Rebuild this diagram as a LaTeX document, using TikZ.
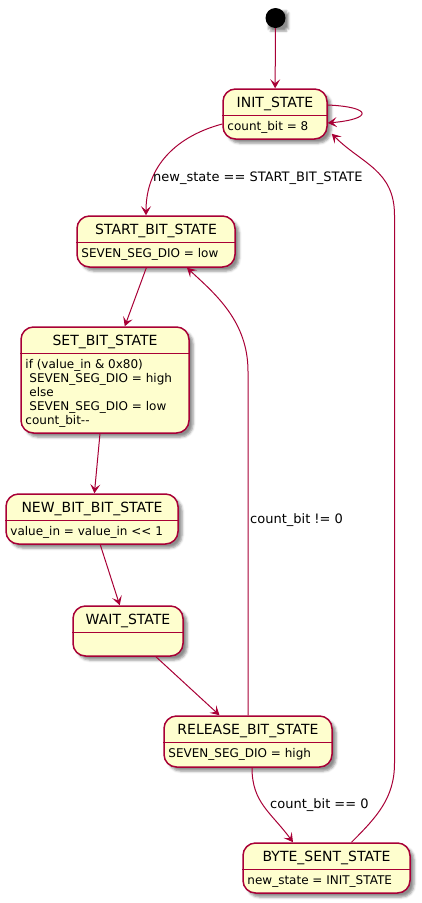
\documentclass[tikz,border=0pt]{standalone}
\usepackage{fontspec}
\setmainfont{DejaVu Sans}
\usetikzlibrary{arrows.meta,shadows.blur}

\definecolor{umlborder}{HTML}{A80036}
\definecolor{umlfill}{HTML}{FEFECE}

\begin{document}
\begin{tikzpicture}[
    x=1pt, y=-1pt,
    state/.style={draw=umlborder, fill=umlfill, line width=1.5pt, rounded corners=12.5pt, inner sep=0pt,
        blur shadow={shadow xshift=4pt, shadow yshift=-4pt, shadow blur radius=2.5pt, shadow blur extra rounding=9pt, shadow opacity=45}},
    title/.style={anchor=base, inner sep=0pt, font=\fontsize{14}{16}\selectfont},
    body/.style={anchor=north west, inner sep=0pt, align=left, font=\fontsize{12}{14}\selectfont},
    divider/.style={draw=umlborder, line width=1.5pt},
    arr/.style={draw=umlborder, line width=1pt, -{Stealth[length=9pt, width=10pt, inset=4pt]}},
    guard/.style={inner sep=0pt, anchor=west, font=\fontsize{13}{15}\selectfont},
]
\useasboundingbox (0,0) rectangle (421,903);

% Initial pseudo-state
\node[circle, fill=black, minimum size=20pt, inner sep=0pt,
    blur shadow={shadow xshift=3pt, shadow yshift=-3pt, shadow blur radius=2pt, shadow blur extra rounding=8pt, shadow opacity=45}] (initial) at (275.5,18) {};

% INIT_STATE
\node[state, minimum width=104pt, minimum height=50pt] (init) at (275,114) {};
\node[title] (initT) at ([yshift=-19.5pt]init.north) {INIT\_STATE};
\draw[divider] ([yshift=-27pt]init.north west) -- ([yshift=-27pt]init.north east);
\node[body] (initB) at ([xshift=5pt,yshift=-33pt]init.north west) {count\_bit = 8};

% START_BIT_STATE
\node[state, minimum width=158pt, minimum height=51pt] (startbit) at (156,241.5) {};
\node[title] (startbitT) at ([yshift=-19.5pt]startbit.north) {START\_BIT\_STATE};
\draw[divider] ([yshift=-27pt]startbit.north west) -- ([yshift=-27pt]startbit.north east);
\node[body] (startbitB) at ([xshift=5pt,yshift=-33pt]startbit.north west) {SEVEN\_SEG\_DIO = low};

% SET_BIT_STATE
\node[state, minimum width=168pt, minimum height=106pt] (setbit) at (105,380) {};
\node[title] (setbitT) at ([yshift=-19.5pt]setbit.north) {SET\_BIT\_STATE};
\draw[divider] ([yshift=-27pt]setbit.north west) -- ([yshift=-27pt]setbit.north east);
\node[body] (setbitB) at ([xshift=5pt,yshift=-33pt]setbit.north west)
    {if (value\_in \& 0x80)\\\hspace*{4pt}SEVEN\_SEG\_DIO = high\\\hspace*{4pt}else\\\hspace*{4pt}SEVEN\_SEG\_DIO = low\\count\_bit\mbox{-}\mbox{-}};

% NEW_BIT_BIT_STATE
\node[state, minimum width=172pt, minimum height=50pt] (newbit) at (92,519) {};
\node[title] (newbitT) at ([yshift=-19.5pt]newbit.north) {NEW\_BIT\_BIT\_STATE};
\draw[divider] ([yshift=-27pt]newbit.north west) -- ([yshift=-27pt]newbit.north east);
\node[body] (newbitB) at ([xshift=5pt,yshift=-33pt]newbit.north west) {value\_in = value\_in \mbox{<}\mbox{<} 1};

% WAIT_STATE
\node[state, minimum width=110pt, minimum height=50pt] (wait) at (128,631) {};
\node[title] (waitT) at ([yshift=-19.5pt]wait.north) {WAIT\_STATE};
\draw[divider] ([yshift=-27pt]wait.north west) -- ([yshift=-27pt]wait.north east);

% RELEASE_BIT_STATE
\node[state, minimum width=168pt, minimum height=51pt] (release) at (248,741.5) {};
\node[title] (releaseT) at ([yshift=-19.5pt]release.north) {RELEASE\_BIT\_STATE};
\draw[divider] ([yshift=-27pt]release.north west) -- ([yshift=-27pt]release.north east);
\node[body] (releaseB) at ([xshift=5pt,yshift=-33pt]release.north west) {SEVEN\_SEG\_DIO = high};

% BYTE_SENT_STATE
\node[state, minimum width=167pt, minimum height=50pt] (bytesent) at (326.5,868) {};
\node[title] (bytesentT) at ([yshift=-19.5pt]bytesent.north) {BYTE\_SENT\_STATE};
\draw[divider] ([yshift=-27pt]bytesent.north west) -- ([yshift=-27pt]bytesent.north east);
\node[body] (bytesentB) at ([xshift=5pt,yshift=-33pt]bytesent.north west) {new\_state = INIT\_STATE};

% Transitions
\draw[arr] (initial) -- (init);
\draw[arr] ([yshift=9pt]init.east) .. controls +(45,2) and +(45,-4) .. ([yshift=-9pt]init.east);
\draw[arr] ([yshift=-10pt]init.west) .. controls +(-45,12) and +(0,-50) .. ([xshift=-10pt]startbit.north);
\draw[arr] (startbit) -- (setbit);
\draw[arr] (setbit) -- (newbit);
\draw[arr] (newbit) -- (wait);
\draw[arr] (wait) -- (release);
\draw[arr] (release.north) -- ++(0,-344) .. controls +(0,-50) and +(28,26) .. ([xshift=31pt]startbit.south);
\draw[arr] ([xshift=4pt]release.south) .. controls +(0,35) and +(-22,-30) .. ([xshift=-33.5pt]bytesent.north);
\draw[arr] ([xshift=25pt]bytesent.north) .. controls +(25,-25) and +(0,35) .. ++(43,-79) -- ++(0,-548)
    .. controls +(0,-45) and +(30,30) .. ([xshift=4pt,yshift=6pt]init.south east);

% Guards
\node[guard] (guardStart) at (153,178) {new\_state == START\_BIT\_STATE};
\node[guard] (guardLoop) at (250,520) {count\_bit != 0};
\node[guard] (guardDone) at (270,805) {count\_bit == 0};

\end{tikzpicture}
\end{document}
